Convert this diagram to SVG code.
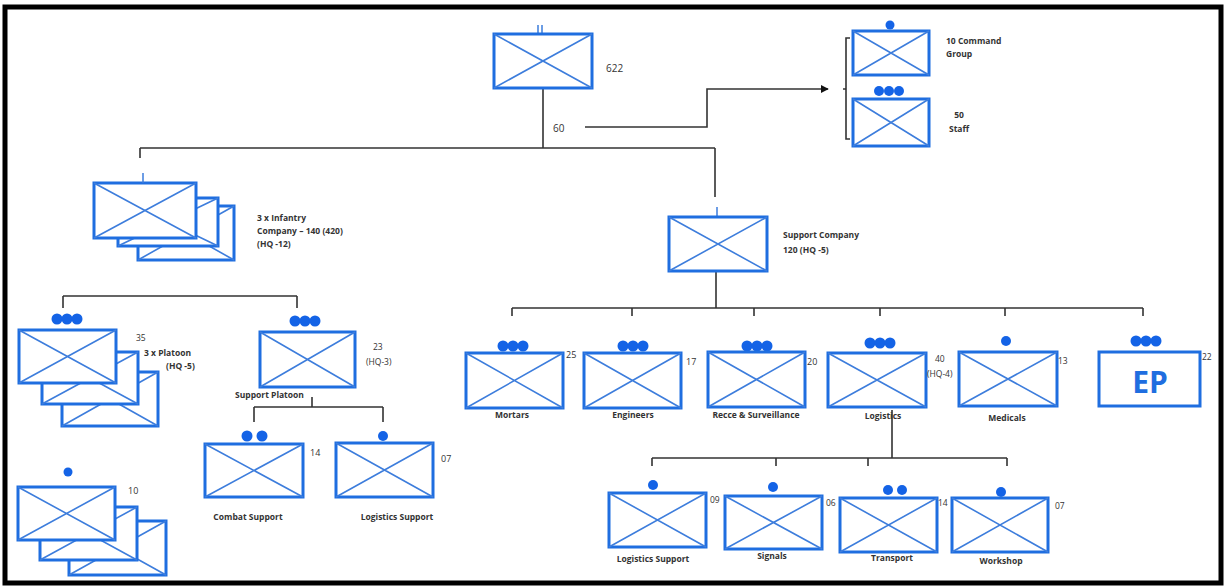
<svg xmlns="http://www.w3.org/2000/svg" width="1226" height="588" viewBox="0 0 1226 588">
<defs>
<style>
.bx{fill:#fff;stroke:#1f6ee0;stroke-width:3}
.xl{fill:none;stroke:#3d7ddc;stroke-width:1.6}
.dot{fill:#1463e6}
.tk{stroke:#3d7ddc;stroke-width:1.5}
.cn{fill:none;stroke:#333;stroke-width:1.6}
.t{font-family:"Open Sans","Liberation Sans",sans-serif;font-size:9.5px;fill:#333}
.b{font-weight:bold}
.m{text-anchor:middle}
</style>
<marker id="ah" viewBox="0 0 10 10" refX="9" refY="5" markerWidth="8" markerHeight="8" orient="auto" markerUnits="userSpaceOnUse">
<path d="M0,0 L10,5 L0,10 Z" fill="#111"/>
</marker>
</defs>
<rect x="0" y="0" width="1226" height="588" fill="#fff"/>
<rect x="5" y="7" width="1216" height="576" fill="none" stroke="#000" stroke-width="5"/>

<g id="connectors">
<path class="cn" d="M543,89 V148 M140,148 H715 M140,148 V158 M715,148 V197"/>
<path class="cn" d="M585,127 H707 V89 H828" marker-end="url(#ah)"/>
<path class="cn" d="M850,38 H846 V139 H850 M846,89 H843"/>
<path class="cn" d="M716,272 V308 M512,308 H1143 M512,308 V316 M632,308 V316 M754,308 V316 M880,308 V316 M1005,308 V316 M1143,308 V316"/>
<path class="cn" d="M892,410 V458 M652,458 H1007 M652,458 V466 M776,458 V466 M868,458 V466 M1007,458 V466"/>
<path class="cn" d="M63,296 H297 M63,296 V308 M297,296 V308"/>
<path class="cn" d="M312,397 V407 M254,407 H383 M254,407 V422 M383,407 V422"/>
</g>

<g id="battalion">
<path class="tk" d="M538,25 V34 M542,25 V34"/>
<rect class="bx" x="494" y="34" width="98" height="54"/>
<path class="xl" d="M494,34 L592,88 M494,88 L592,34"/>
<text class="t" x="606" y="72" style="font-size:10px">622</text>
<text class="t" x="553" y="132" style="font-size:10px">60</text>
</g>

<g id="command-group">
<circle class="dot" cx="890" cy="25" r="4.5"/>
<rect class="bx" x="853" y="31" width="76" height="44"/>
<path class="xl" d="M853,31 L929,75 M853,75 L929,31"/>
<text class="t b" x="946" y="44" style="font-size:8.5px">10 Command</text>
<text class="t b" x="946" y="57" style="font-size:8.5px">Group</text>
</g>

<g id="staff">
<circle class="dot" cx="879" cy="91" r="5"/><circle class="dot" cx="889" cy="91" r="5"/><circle class="dot" cx="899" cy="91" r="5"/>
<rect class="bx" x="853" y="99" width="76" height="47"/>
<path class="xl" d="M853,99 L929,146 M853,146 L929,99"/>
<text class="t b m" x="959" y="118" style="font-size:8.5px">50</text>
<text class="t b m" x="959" y="132" style="font-size:8.5px">Staff</text>
</g>

<g id="infantry-company">
<rect class="bx" x="138" y="206" width="96" height="54"/>
<path class="xl" d="M138,206 L234,260 M138,260 L234,206"/>
<rect class="bx" x="118" y="198" width="100" height="48"/>
<path class="xl" d="M118,198 L218,246 M118,246 L218,198"/>
<rect class="bx" x="94" y="183" width="102" height="55"/>
<path class="xl" d="M94,183 L196,238 M94,238 L196,183"/>
<path class="tk" d="M143,173 V183"/>
<text class="t b" x="257" y="221" style="font-size:8.5px">3 x Infantry</text>
<text class="t b" x="257" y="234" style="font-size:8.5px">Company – 140 (420)</text>
<text class="t b" x="257" y="247" style="font-size:8.5px">(HQ -12)</text>
</g>

<g id="support-company">
<path class="tk" d="M717,207 V217"/>
<rect class="bx" x="669" y="217" width="98" height="54"/>
<path class="xl" d="M669,217 L767,271 M669,271 L767,217"/>
<text class="t b" x="783" y="238" style="font-size:8.5px">Support Company</text>
<text class="t b" x="783" y="253" style="font-size:8.5px">120 (HQ -5)</text>
</g>

<g id="platoons">
<rect class="bx" x="62" y="372" width="96" height="54"/>
<path class="xl" d="M62,372 L158,426 M62,426 L158,372"/>
<rect class="bx" x="42" y="352" width="96" height="52"/>
<path class="xl" d="M42,352 L138,404 M42,404 L138,352"/>
<circle class="dot" cx="57" cy="319" r="5.5"/><circle class="dot" cx="67" cy="319" r="5.5"/><circle class="dot" cx="77" cy="319" r="5.5"/>
<rect class="bx" x="19" y="330" width="97" height="53"/>
<path class="xl" d="M19,330 L116,383 M19,383 L116,330"/>
<text class="t" x="136" y="341" style="font-size:8.5px">35</text>
<text class="t b" x="144" y="356" style="font-size:8.5px">3 x  Platoon</text>
<text class="t b" x="166" y="369" style="font-size:8.5px">(HQ -5)</text>
</g>

<g id="support-platoon">
<circle class="dot" cx="295" cy="321" r="5.5"/><circle class="dot" cx="305" cy="321" r="5.5"/><circle class="dot" cx="315" cy="321" r="5.5"/>
<rect class="bx" x="260" y="332" width="95" height="55"/>
<path class="xl" d="M260,332 L355,387 M260,387 L355,332"/>
<text class="t" x="373" y="350" style="font-size:8.5px">23</text>
<text class="t" x="366" y="365" style="font-size:8.5px">(HQ-3)</text>
<text class="t b" x="235" y="398" style="font-size:8.5px">Support Platoon</text>
</g>

<g id="combat-support">
<circle class="dot" cx="247" cy="436" r="5.5"/><circle class="dot" cx="262" cy="436" r="5.5"/>
<rect class="bx" x="205" y="444" width="98" height="53"/>
<path class="xl" d="M205,444 L303,497 M205,497 L303,444"/>
<text class="t" x="310" y="456" style="font-size:9px">14</text>
<text class="t b m" x="248" y="520" style="font-size:8.5px">Combat Support</text>
</g>

<g id="platoon-logistics-support">
<circle class="dot" cx="383" cy="436" r="5"/>
<rect class="bx" x="336" y="443" width="97" height="54"/>
<path class="xl" d="M336,443 L433,497 M336,497 L433,443"/>
<text class="t" x="441" y="462" style="font-size:9px">07</text>
<text class="t b m" x="397" y="520" style="font-size:8.5px">Logistics Support</text>
</g>

<g id="sections">
<rect class="bx" x="69" y="521" width="97" height="54"/>
<path class="xl" d="M69,521 L166,575 M69,575 L166,521"/>
<rect class="bx" x="40" y="507" width="97" height="53"/>
<path class="xl" d="M40,507 L137,560 M40,560 L137,507"/>
<circle class="dot" cx="68" cy="472" r="4.5"/>
<rect class="bx" x="18" y="487" width="97" height="53"/>
<path class="xl" d="M18,487 L115,540 M18,540 L115,487"/>
<text class="t" x="128" y="494" style="font-size:9px">10</text>
</g>

<g id="mortars">
<circle class="dot" cx="503" cy="346" r="5.5"/><circle class="dot" cx="513" cy="346" r="5.5"/><circle class="dot" cx="523" cy="346" r="5.5"/>
<rect class="bx" x="466" y="353" width="97" height="55"/>
<path class="xl" d="M466,353 L563,408 M466,408 L563,353"/>
<text class="t" x="566" y="358" style="font-size:9px">25</text>
<text class="t b m" x="512" y="418" style="font-size:8.5px">Mortars</text>
</g>

<g id="engineers">
<circle class="dot" cx="623" cy="346" r="5.5"/><circle class="dot" cx="633" cy="346" r="5.5"/><circle class="dot" cx="643" cy="346" r="5.5"/>
<rect class="bx" x="584" y="353" width="97" height="55"/>
<path class="xl" d="M584,353 L681,408 M584,408 L681,353"/>
<text class="t" x="686" y="365" style="font-size:9px">17</text>
<text class="t b m" x="633" y="418" style="font-size:8.5px">Engineers</text>
</g>

<g id="recce">
<circle class="dot" cx="747" cy="346" r="5.5"/><circle class="dot" cx="757" cy="346" r="5.5"/><circle class="dot" cx="767" cy="346" r="5.5"/>
<rect class="bx" x="708" y="352" width="97" height="55"/>
<path class="xl" d="M708,352 L805,407 M708,407 L805,352"/>
<text class="t" x="807" y="365" style="font-size:9px">20</text>
<text class="t b m" x="756" y="418" style="font-size:8.5px">Recce &amp; Surveillance</text>
</g>

<g id="logistics">
<circle class="dot" cx="870" cy="343" r="5.5"/><circle class="dot" cx="880" cy="343" r="5.5"/><circle class="dot" cx="890" cy="343" r="5.5"/>
<rect class="bx" x="828" y="353" width="98" height="54"/>
<path class="xl" d="M828,353 L926,407 M828,407 L926,353"/>
<text class="t" x="935" y="362" style="font-size:8.5px">40</text>
<text class="t" x="927" y="377" style="font-size:8.5px">(HQ-4)</text>
<text class="t b m" x="883" y="419" style="font-size:8.5px">Logistics</text>
</g>

<g id="medicals">
<circle class="dot" cx="1006" cy="341" r="5"/>
<rect class="bx" x="959" y="352" width="98" height="54"/>
<path class="xl" d="M959,352 L1057,406 M959,406 L1057,352"/>
<text class="t" x="1058" y="364" style="font-size:8.5px">13</text>
<text class="t b m" x="1007" y="421" style="font-size:8.5px">Medicals</text>
</g>

<g id="ep">
<circle class="dot" cx="1136" cy="341" r="5.5"/><circle class="dot" cx="1146" cy="341" r="5.5"/><circle class="dot" cx="1156" cy="341" r="5.5"/>
<rect class="bx" x="1099" y="352" width="101" height="54"/>
<text x="1150" y="393" text-anchor="middle" font-family="'Open Sans','Liberation Sans',sans-serif" font-size="30" font-weight="bold" fill="#1f6ee0">EP</text>
<text class="t" x="1202" y="360" style="font-size:8.5px">22</text>
</g>

<g id="log-support">
<circle class="dot" cx="653" cy="485" r="5"/>
<rect class="bx" x="609" y="493" width="97" height="54"/>
<path class="xl" d="M609,493 L706,547 M609,547 L706,493"/>
<text class="t" x="710" y="503" style="font-size:8.5px">09</text>
<text class="t b m" x="653" y="562" style="font-size:8.5px">Logistics Support</text>
</g>

<g id="signals">
<circle class="dot" cx="773" cy="487" r="5"/>
<rect class="bx" x="725" y="496" width="97" height="53"/>
<path class="xl" d="M725,496 L822,549 M725,549 L822,496"/>
<text class="t" x="826" y="506" style="font-size:8.5px">06</text>
<text class="t b m" x="772" y="559" style="font-size:8.5px">Signals</text>
</g>

<g id="transport">
<circle class="dot" cx="888" cy="490" r="5"/><circle class="dot" cx="902" cy="490" r="5"/>
<rect class="bx" x="840" y="498" width="97" height="54"/>
<path class="xl" d="M840,498 L937,552 M840,552 L937,498"/>
<text class="t" x="938" y="506" style="font-size:8.5px">14</text>
<text class="t b m" x="892" y="561" style="font-size:8.5px">Transport</text>
</g>

<g id="workshop">
<circle class="dot" cx="1001" cy="492" r="5"/>
<rect class="bx" x="952" y="498" width="96" height="54"/>
<path class="xl" d="M952,498 L1048,552 M952,552 L1048,498"/>
<text class="t" x="1055" y="509" style="font-size:8.5px">07</text>
<text class="t b m" x="1001" y="564" style="font-size:8.5px">Workshop</text>
</g>
</svg>
